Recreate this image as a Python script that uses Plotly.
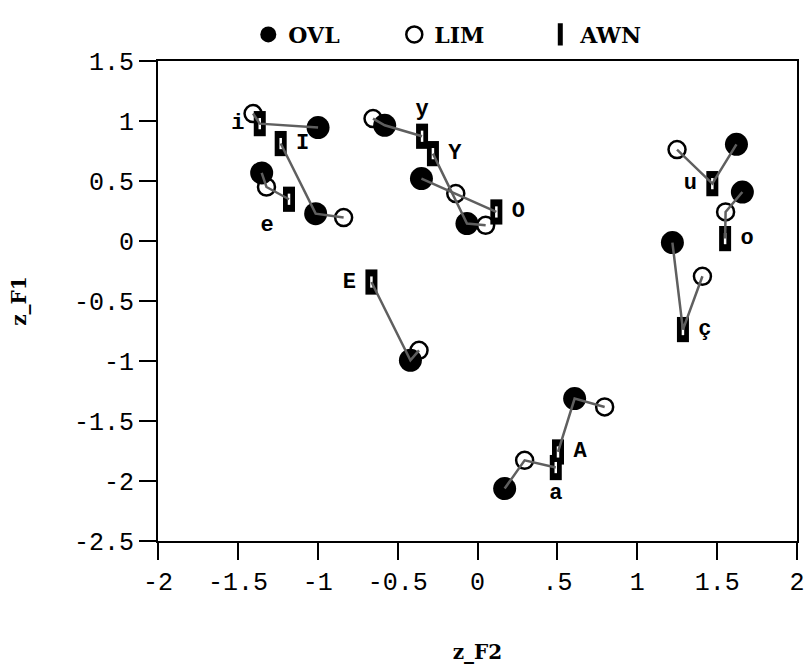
import plotly.graph_objects as go

# Vowel categories (labels drawn next to the AWN point)
vowels = ["i", "I", "e", "y", "Y", "O", "E", "u", "o", "ç", "A", "a"]

# Standardised formant positions per speaker group
ovl_f2 = [-0.998, -1.013, -1.351, -0.581, -0.066, -0.351, -0.420, 1.621, 1.658, 1.220, 0.608, 0.170]
ovl_f1 = [0.945, 0.228, 0.567, 0.964, 0.145, 0.520, -0.994, 0.806, 0.408, -0.013, -1.313, -2.063]

lim_f2 = [-1.405, -0.838, -1.321, -0.654, 0.051, -0.136, -0.366, 1.249, 1.553, 1.408, 0.796, 0.295]
lim_f1 = [1.062, 0.195, 0.450, 1.020, 0.131, 0.395, -0.911, 0.762, 0.242, -0.294, -1.383, -1.828]

awn_f2 = [-1.363, -1.232, -1.180, -0.347, -0.279, 0.118, -0.664, 1.470, 1.550, 1.286, 0.504, 0.490]
awn_f1 = [0.978, 0.812, 0.348, 0.873, 0.728, 0.242, -0.342, 0.478, 0.020, -0.738, -1.758, -1.888]

x_ticks = [-2, -1.5, -1, -0.5, 0, 0.5, 1, 1.5, 2]
x_ticktext = ["-2", "-1.5", "-1", "-0.5", "0", ".5", "1", "1.5", "2"]
y_ticks = [1.5, 1, 0.5, 0, -0.5, -1, -1.5, -2, -2.5]
y_ticktext = ["1.5", "1", "0.5", "0", "-0.5", "-1", "-1.5", "-2", "-2.5"]

# where each vowel label sits relative to its AWN point
label_pos = ["middle left", "middle right", "bottom left", "top center", "middle right",
             "middle right", "middle left", "middle left", "middle right", "middle right",
             "middle right", "bottom center"]

LINE_GREY = "rgb(95,95,95)"
TITLE_FONT = dict(family="DejaVu Serif", size=20, color="black", weight="bold")

fig = go.Figure()

fig.add_trace(go.Scatter(
    x=lim_f2, y=lim_f1, mode="markers", name="LIM", legendrank=2,
    marker=dict(symbol="circle-open", size=17, color="black", line=dict(width=2.5)),
    hoverinfo="skip",
))
fig.add_trace(go.Scatter(
    x=ovl_f2, y=ovl_f1, mode="markers", name="OVL", legendrank=1,
    marker=dict(symbol="circle", size=23, color="black", line=dict(width=0)),
    hoverinfo="skip",
))
# AWN: tall black block with a light slot inside
fig.add_trace(go.Scatter(
    x=awn_f2, y=awn_f1, mode="markers", name="AWN", legendrank=3,
    marker=dict(symbol="line-ns", size=18, color="black", line=dict(width=12, color="black")),
    hoverinfo="skip",
))
fig.add_trace(go.Scatter(
    x=awn_f2, y=awn_f1, mode="markers", showlegend=False,
    marker=dict(symbol="line-ns", size=8, color="white", line=dict(width=2.5, color="white")),
    hoverinfo="skip",
))

# connect the three points of each vowel, ordered along F2
line_x, line_y = [], []
for k in range(len(vowels)):
    pts = sorted([(ovl_f2[k], ovl_f1[k]), (lim_f2[k], lim_f1[k]), (awn_f2[k], awn_f1[k])])
    for px, py in pts:
        line_x.append(px)
        line_y.append(py)
    line_x.append(None)
    line_y.append(None)
fig.add_trace(go.Scatter(
    x=line_x, y=line_y, mode="lines", showlegend=False,
    line=dict(color=LINE_GREY, width=2.5), hoverinfo="skip",
))

fig.add_trace(go.Scatter(
    x=awn_f2, y=awn_f1, mode="markers+text", showlegend=False,
    text=vowels, textposition=label_pos,
    marker=dict(size=23, color="rgba(0,0,0,0)"),
    textfont=dict(family="Liberation Mono", size=22, color="black", weight="bold"),
    hoverinfo="skip",
))

axis_common = dict(
    showline=True, linecolor="black", linewidth=2, mirror=True,
    ticks="outside", ticklen=17, tickwidth=2, tickcolor="black",
    showgrid=False, zeroline=False, automargin=False,
    tickfont=dict(family="Liberation Mono", size=25, color="black"),
)

fig.update_layout(
    width=806, height=664,
    margin=dict(l=158, r=9, t=61, b=123, autoexpand=False),
    paper_bgcolor="white", plot_bgcolor="white",
    xaxis=dict(range=[-2, 2], tickvals=x_ticks, ticktext=x_ticktext,
               title=dict(text="z_F2", standoff=60, font=TITLE_FONT),
               **axis_common),
    yaxis=dict(range=[-2.5, 1.5], tickvals=y_ticks, ticktext=y_ticktext,
               title=dict(text="z_F1", standoff=42, font=TITLE_FONT),
               **axis_common),
    legend=dict(orientation="h", x=0.1413, xanchor="left", y=1.055, yanchor="middle",
                entrywidth=101, entrywidthmode="pixels",
                font=dict(family="DejaVu Serif", size=22, color="black", weight="bold"),
                bgcolor="rgba(0,0,0,0)"),
    showlegend=True,
)

fig.write_html("out.html")
